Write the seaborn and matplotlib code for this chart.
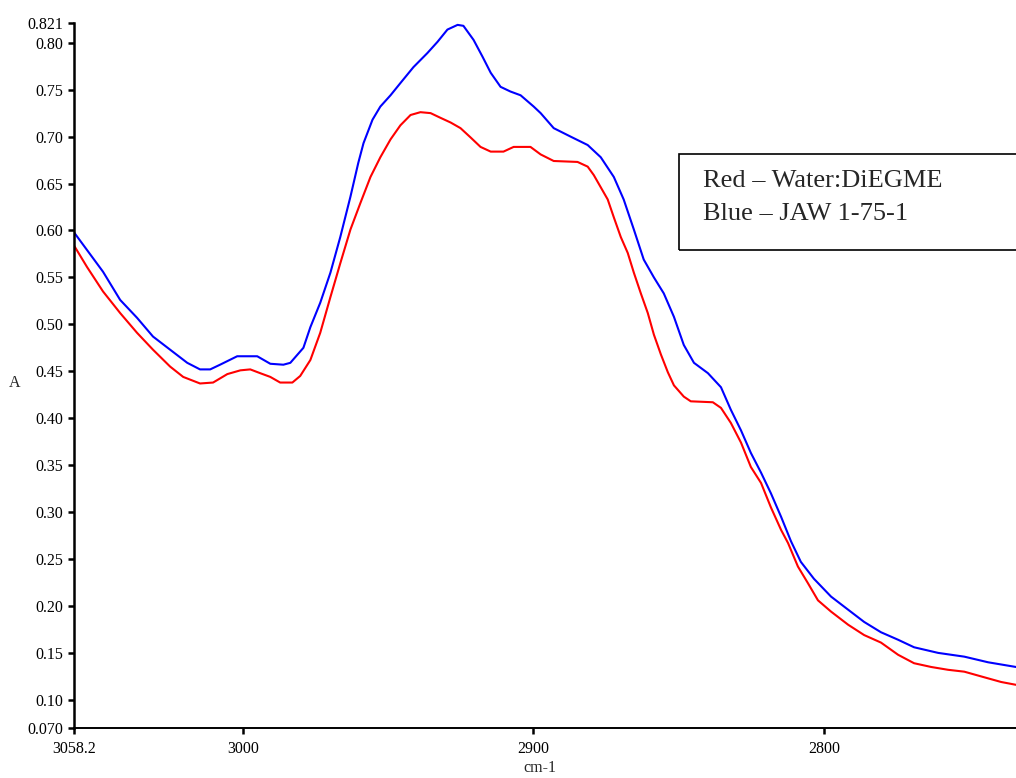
import matplotlib
matplotlib.use("Agg")
import matplotlib.pyplot as plt
import matplotlib.patches as patches
import seaborn as sns
import pandas as pd

# wavenumber (cm-1) and absorbance
blue_x = [3058.2, 3048.2, 3042.3, 3036.5, 3031.0, 3025.1, 3019.2, 3014.8, 3011.3, 3007.9,
          3002.0, 2995.1, 2990.6, 2986.1, 2983.7, 2979.2, 2976.8, 2973.4, 2969.9, 2966.5,
          2963.0, 2960.3, 2958.5, 2955.4, 2952.7, 2949.2, 2945.8, 2941.3, 2936.5, 2933.0,
          2929.6, 2926.1, 2924.1, 2920.6, 2917.5, 2914.7, 2911.3, 2907.9, 2904.4, 2899.9,
          2897.5, 2893.0, 2887.2, 2881.3, 2876.8, 2872.3, 2868.9, 2865.4, 2862.0, 2858.5,
          2855.1, 2851.6, 2848.2, 2844.7, 2839.9, 2835.4, 2832.0, 2828.5, 2825.1, 2821.6,
          2818.2, 2814.7, 2811.3, 2807.9, 2803.4, 2797.5, 2791.6, 2786.1, 2780.3, 2774.4,
          2768.9, 2760.6, 2751.6, 2743.4, 2733.8]
blue_y = [0.598, 0.556, 0.526, 0.507, 0.487, 0.473, 0.459, 0.452, 0.452, 0.457,
          0.466, 0.466, 0.458, 0.457, 0.459, 0.475, 0.497, 0.523, 0.555, 0.593,
          0.636, 0.672, 0.693, 0.718, 0.732, 0.744, 0.757, 0.774, 0.789, 0.801,
          0.814, 0.819, 0.818, 0.803, 0.785, 0.768, 0.753, 0.748, 0.744, 0.732,
          0.725, 0.709, 0.700, 0.691, 0.678, 0.657, 0.633, 0.601, 0.569, 0.550,
          0.533, 0.508, 0.478, 0.459, 0.448, 0.433, 0.409, 0.387, 0.363, 0.342,
          0.320, 0.295, 0.269, 0.247, 0.229, 0.210, 0.196, 0.183, 0.172, 0.164,
          0.156, 0.150, 0.146, 0.140, 0.135]

red_x = [3058.2, 3053.7, 3048.2, 3042.3, 3036.5, 3031.0, 3025.1, 3020.6, 3014.8, 3010.3,
         3005.4, 3000.9, 2997.5, 2994.1, 2990.6, 2987.2, 2983.0, 2980.3, 2976.8, 2973.4,
         2969.9, 2966.5, 2963.0, 2959.6, 2956.1, 2952.7, 2949.2, 2945.8, 2942.3, 2938.9,
         2935.4, 2932.0, 2928.5, 2925.1, 2921.6, 2918.2, 2914.7, 2910.3, 2906.8, 2901.0,
         2897.5, 2893.0, 2884.8, 2881.3, 2879.2, 2876.8, 2874.4, 2872.3, 2869.9, 2867.5,
         2865.4, 2863.0, 2860.6, 2858.5, 2856.1, 2853.7, 2851.6, 2848.2, 2845.8, 2838.2,
         2835.4, 2832.0, 2828.5, 2825.1, 2821.6, 2818.2, 2814.7, 2812.3, 2808.9, 2805.4,
         2802.0, 2797.5, 2791.6, 2786.1, 2780.3, 2774.4, 2768.9, 2763.0, 2757.2, 2751.6,
         2744.7, 2738.9, 2733.8]
red_y = [0.584, 0.561, 0.535, 0.512, 0.491, 0.473, 0.455, 0.444, 0.437, 0.438,
         0.447, 0.451, 0.452, 0.448, 0.444, 0.438, 0.438, 0.445, 0.462, 0.491,
         0.529, 0.565, 0.601, 0.629, 0.657, 0.678, 0.697, 0.712, 0.723, 0.726,
         0.725, 0.720, 0.715, 0.709, 0.699, 0.689, 0.684, 0.684, 0.689, 0.689,
         0.681, 0.674, 0.673, 0.668, 0.659, 0.646, 0.633, 0.614, 0.593, 0.576,
         0.555, 0.533, 0.512, 0.489, 0.468, 0.449, 0.435, 0.423, 0.418, 0.417,
         0.411, 0.395, 0.374, 0.348, 0.331, 0.305, 0.281, 0.267, 0.242, 0.224,
         0.206, 0.194, 0.180, 0.169, 0.161, 0.148, 0.139, 0.135, 0.132, 0.130,
         0.124, 0.119, 0.116]

y_ticks = [0.070, 0.10, 0.15, 0.20, 0.25, 0.30, 0.35, 0.40, 0.45, 0.50,
           0.55, 0.60, 0.65, 0.70, 0.75, 0.80, 0.821]
y_labels = ["0.070", "0.10", "0.15", "0.20", "0.25", "0.30", "0.35", "0.40", "0.45",
            "0.50", "0.55", "0.60", "0.65", "0.70", "0.75", "0.80", "0.821"]
x_ticks = [3058.2, 3000, 2900, 2800]
x_labels = ["3058.2", "3000", "2900", "2800"]
legend_lines = ["Red \u2013 Water:DiEGME", "Blue \u2013 JAW 1-75-1"]

sns.set_style("ticks")
plt.rcParams["font.family"] = ["Liberation Serif", "DejaVu Serif"]

fig = plt.figure(figsize=(10.16, 7.78), dpi=100)
ax = fig.add_axes([74 / 1016, 50 / 778, 1 - 74 / 1016, 705 / 778])

blue_df = pd.DataFrame({"x": blue_x, "y": blue_y})
red_df = pd.DataFrame({"x": red_x, "y": red_y})
sns.lineplot(data=red_df, x="x", y="y", color="#ff0000", linewidth=1.5,
             estimator=None, ax=ax)
sns.lineplot(data=blue_df, x="x", y="y", color="#0000ff", linewidth=1.5,
             estimator=None, ax=ax)

ax.set_xlim(3058.2, 2733.8)
ax.set_ylim(0.070, 0.821)
ax.set_xticks(x_ticks)
ax.set_xticklabels(x_labels)
ax.set_yticks(y_ticks)
ax.set_yticklabels(y_labels)
ax.tick_params(axis="both", direction="out", length=4.3, width=1.8,
               labelsize=11.5, colors="black", pad=3.5)
ax.tick_params(axis="x", pad=5)

for side in ["top", "right"]:
    ax.spines[side].set_visible(False)
ax.spines["left"].set_linewidth(1.8)
ax.spines["bottom"].set_linewidth(1.4)
ax.spines["left"].set_color("black")
ax.spines["bottom"].set_color("black")

ax.set_xlabel("")
ax.set_ylabel("")
fig.text(15 / 1016, 1 - 383 / 778, "A", fontsize=11.5, ha="center", va="center")
fig.text(540 / 1016, 1 - 768 / 778, "cm-1", fontsize=11.5, ha="center", va="center")

# boxed legend text, box runs off the right edge
box = patches.Rectangle((679 / 1016, 1 - 250 / 778), 0.35, 96 / 778,
                        transform=fig.transFigure, fill=False,
                        edgecolor="black", linewidth=1.2, clip_on=False)
fig.patches.append(box)
fig.text(703 / 1016, 1 - 181 / 778, legend_lines[0], fontsize=19,
         ha="left", va="center")
fig.text(703 / 1016, 1 - 214 / 778, legend_lines[1], fontsize=19,
         ha="left", va="center")

fig.savefig("out.png", dpi=100)
